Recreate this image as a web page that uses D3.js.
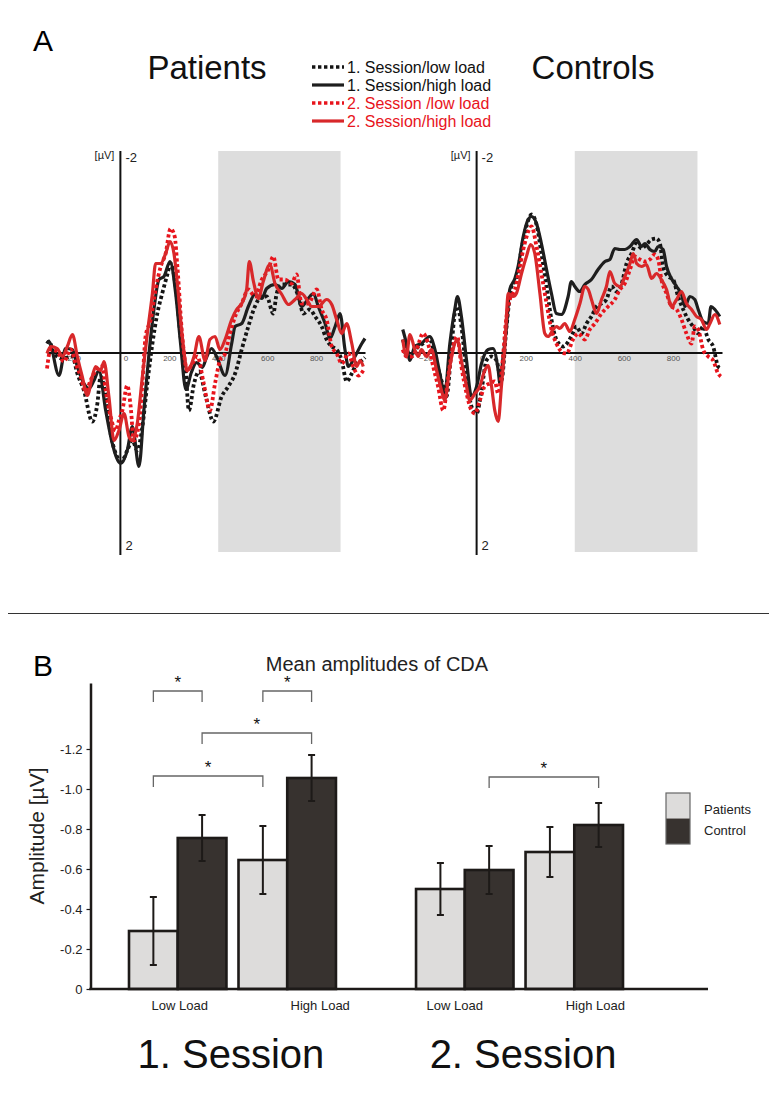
<!DOCTYPE html>
<html>
<head>
<meta charset="utf-8">
<script src="https://cdn.jsdelivr.net/npm/d3@7"></script>
<style>
  html, body { margin: 0; padding: 0; background: #fff; }
  svg { display: block; font-family: "Liberation Sans", Arial, Helvetica, sans-serif; }
</style>
</head>
<body>
<svg id="chart" width="777" height="1103"></svg>
<script>
// ---------------- DATA ----------------
// Panel A: ERP waveforms, [time in ms, amplitude in µV] (negative plotted upward)
const erpTicks = [-200, 0, 200, 400, 600, 800];
const erpWindow = [400, 900];
const seriesNames = ["1. Session/low load", "1. Session/high load", "2. Session /low load", "2. Session/high load"];

const patS1Low = [[-300,-0.09],[-292,-0.11],[-271,0.01],[-237,0.06],[-196,0.04],[-176,0.21],[-149,0.38],[-115,0.69],[-94,0.51],[-81,0.24],[-60,0.44],[-40,0.81],[-19,1.01],[4,1.09],[28,0.98],[49,0.88],[69,0.98],[90,0.74],[110,0.31],[131,-0.09],[151,-0.39],[171,-0.59],[192,-0.78],[205,-0.89],[226,-0.66],[246,-0.16],[267,0.18],[280,0.58],[301,0.31],[321,0.19],[350,0.45],[380,0.69],[414,0.44],[441,0.34],[469,0.21],[496,-0.03],[523,-0.26],[550,-0.46],[578,-0.56],[598,-0.56],[625,-0.39],[639,-0.59],[660,-0.68],[700,-0.68],[728,-0.56],[748,-0.39],[775,-0.43],[796,-0.36],[823,-0.26],[843,-0.13],[864,-0.06],[884,-0.03],[905,0.08],[925,0.29],[946,0.21],[966,0.11],[987,0.08],[1000,0.05]];
const patS1High = [[-300,-0.09],[-292,-0.11],[-251,0.23],[-224,-0.04],[-196,-0.03],[-176,0.14],[-149,0.31],[-128,0.36],[-108,0.28],[-88,0.18],[-60,0.58],[-33,0.91],[1,1.11],[28,0.98],[49,0.74],[76,1.14],[96,0.58],[117,0.01],[137,-0.43],[158,-0.73],[178,-0.76],[203,-0.91],[226,-0.59],[246,-0.09],[268,0.37],[290,0.2],[312,0.1],[335,0.15],[352,0.05],[373,-0.04],[395,0.05],[428,0.23],[455,-0.09],[469,-0.26],[496,-0.29],[523,-0.46],[550,-0.58],[578,-0.54],[598,-0.64],[632,-0.68],[660,-0.64],[687,-0.71],[714,-0.68],[741,-0.46],[768,-0.54],[789,-0.59],[809,-0.46],[837,-0.29],[857,-0.14],[878,-0.26],[898,-0.39],[918,-0.03],[932,0.14],[959,0.04],[987,-0.09],[1000,-0.14]];
const patS2Low = [[-300,0.16],[-285,-0.03],[-258,-0.01],[-231,0.09],[-203,-0.03],[-183,0.11],[-162,0.24],[-142,0.39],[-122,0.28],[-94,0.16],[-74,0.14],[-60,0.38],[-40,0.64],[-19,0.78],[-6,0.68],[8,0.58],[28,0.33],[42,0.54],[55,0.88],[76,0.71],[90,0.31],[103,-0.16],[124,-0.33],[144,-0.63],[165,-0.86],[185,-0.99],[205,-1.24],[222,-1.16],[233,-0.86],[253,-0.16],[274,0.18],[294,0.11],[315,0.04],[340,0.3],[366,0.58],[387,0.31],[407,0.08],[428,0.01],[448,-0.19],[469,-0.36],[496,-0.49],[523,-0.63],[550,-0.56],[578,-0.73],[605,-0.83],[625,-0.96],[646,-0.73],[673,-0.73],[700,-0.69],[720,-0.78],[741,-0.49],[768,-0.49],[803,-0.63],[823,-0.43],[843,-0.33],[864,-0.06],[884,0.01],[905,0.11],[932,0.01],[952,0.14],[973,0.23],[993,0.18]];
const patS2High = [[-300,0.01],[-285,-0.06],[-258,-0.04],[-237,0.04],[-217,-0.06],[-196,-0.18],[-176,0.04],[-156,0.24],[-135,0.43],[-115,0.24],[-101,0.14],[-81,0.18],[-67,0.09],[-47,0.44],[-26,0.88],[-6,0.78],[15,0.61],[35,0.84],[49,0.88],[69,0.71],[90,0.24],[110,-0.19],[131,-0.59],[144,-0.89],[165,-0.89],[185,-0.99],[203,-1.11],[219,-0.99],[233,-0.69],[253,-0.16],[274,0.18],[301,0.04],[321,-0.16],[346,0.08],[366,-0.13],[387,-0.16],[407,-0.03],[428,-0.13],[455,-0.33],[475,-0.43],[496,-0.49],[516,-0.63],[527,-0.91],[544,-0.71],[564,-0.54],[584,-0.71],[611,-0.88],[632,-0.69],[660,-0.58],[687,-0.48],[714,-0.53],[741,-0.59],[762,-0.53],[782,-0.46],[809,-0.46],[843,-0.53],[864,-0.48],[884,-0.33],[905,-0.19],[925,-0.29],[946,-0.09],[966,0.14],[980,0.08],[993,0.14]];

const conS1Low = [[-301,-0.13],[-286,-0.03],[-265,0.04],[-245,-0.04],[-218,-0.09],[-191,-0.13],[-163,0.11],[-136,0.34],[-123,0.44],[-102,-0.06],[-89,-0.39],[-78,-0.46],[-62,-0.26],[-41,0.21],[-21,0.54],[0,0.61],[20,0.38],[40,0.08],[61,0.04],[81,0.08],[101,0.28],[122,-0.26],[142,-0.66],[162,-0.73],[183,-1.03],[203,-1.26],[224,-1.38],[244,-1.28],[264,-0.99],[285,-0.66],[305,-0.33],[325,-0.13],[353,-0.06],[386,-0.16],[407,-0.26],[427,-0.19],[448,-0.29],[468,-0.36],[489,-0.46],[509,-0.49],[529,-0.53],[550,-0.66],[570,-0.61],[590,-0.68],[611,-0.89],[631,-0.99],[652,-1.09],[672,-1.04],[692,-1.08],[713,-1.13],[733,-1.14],[747,-1.09],[760,-0.86],[781,-0.76],[801,-0.73],[821,-0.56],[842,-0.43],[862,-0.33],[882,-0.26],[903,-0.19],[923,-0.26],[944,-0.13],[964,-0.06],[984,0.14],[995,0.16]];
const conS1High = [[-301,-0.23],[-286,-0.09],[-272,0.08],[-252,-0.06],[-225,-0.09],[-191,-0.16],[-170,-0.03],[-150,0.21],[-130,0.41],[-109,-0.09],[-89,-0.43],[-78,-0.56],[-62,-0.36],[-41,0.08],[-21,0.44],[0,0.34],[20,0.11],[47,-0.03],[67,-0.04],[88,0.18],[95,0.31],[108,0.04],[122,-0.26],[135,-0.63],[156,-0.74],[169,-0.86],[190,-1.16],[210,-1.33],[224,-1.36],[244,-1.29],[264,-1.09],[285,-0.83],[305,-0.59],[325,-0.39],[346,-0.38],[373,-0.56],[386,-0.71],[400,-0.66],[420,-0.61],[441,-0.68],[468,-0.73],[495,-0.83],[523,-0.91],[543,-0.93],[563,-1.04],[584,-1.03],[604,-1.03],[625,-1.06],[652,-1.13],[672,-1.06],[686,-1.09],[706,-1.03],[726,-1.01],[740,-1.06],[760,-1.03],[774,-0.86],[794,-0.74],[815,-0.66],[835,-0.58],[849,-0.46],[869,-0.56],[889,-0.53],[903,-0.43],[923,-0.31],[944,-0.29],[955,-0.46],[971,-0.43],[991,-0.36]];
const conS2Low = [[-301,-0.03],[-286,0.04],[-265,0.04],[-245,-0.03],[-218,-0.19],[-198,-0.09],[-177,0.14],[-157,0.34],[-136,0.58],[-116,0.24],[-96,-0.06],[-79,-0.16],[-62,0.14],[-41,0.41],[-21,0.58],[-7,0.61],[13,0.48],[33,0.34],[54,0.31],[74,0.29],[88,0.41],[101,0.21],[122,-0.36],[135,-0.53],[156,-0.63],[176,-0.86],[196,-1.09],[224,-1.26],[244,-1.06],[264,-0.79],[285,-0.49],[305,-0.23],[325,-0.09],[350,0.0],[367,0.01],[393,-0.13],[414,-0.19],[441,-0.13],[461,-0.23],[482,-0.29],[509,-0.39],[536,-0.46],[563,-0.53],[584,-0.63],[604,-0.69],[625,-0.83],[645,-0.96],[665,-0.93],[686,-0.91],[706,-0.93],[726,-0.98],[740,-0.93],[753,-0.73],[774,-0.59],[794,-0.46],[815,-0.43],[835,-0.33],[855,-0.19],[876,-0.09],[889,-0.26],[903,-0.23],[923,-0.03],[944,0.04],[964,0.08],[984,0.21],[995,0.24]];
const conS2High = [[-301,-0.13],[-286,0.04],[-272,-0.18],[-252,-0.03],[-238,0.04],[-225,-0.03],[-204,0.04],[-184,-0.03],[-163,0.18],[-143,0.38],[-130,0.48],[-109,0.14],[-89,-0.09],[-79,-0.13],[-62,0.08],[-41,0.34],[-28,0.48],[-7,0.41],[13,0.34],[33,0.18],[47,0.13],[61,0.34],[74,0.58],[88,0.69],[101,0.34],[115,-0.06],[129,-0.59],[149,-0.56],[162,-0.59],[183,-0.79],[203,-0.96],[220,-1.08],[237,-0.99],[258,-0.59],[278,-0.19],[291,-0.16],[312,-0.23],[325,-0.26],[339,-0.24],[359,-0.29],[380,-0.21],[400,-0.33],[421,-0.49],[441,-0.66],[455,-0.63],[468,-0.53],[489,-0.39],[509,-0.53],[529,-0.66],[543,-0.81],[563,-0.69],[584,-0.66],[604,-0.76],[625,-0.89],[638,-0.99],[652,-0.89],[672,-0.86],[692,-0.88],[713,-0.74],[733,-0.79],[753,-0.73],[774,-0.63],[794,-0.46],[815,-0.53],[835,-0.61],[855,-0.49],[876,-0.43],[896,-0.36],[916,-0.33],[937,-0.23],[951,-0.29],[971,-0.38],[991,-0.28]];

// Panel B: mean CDA amplitudes (µV), order: S1 low, S1 high, S2 low, S2 high
const sessions = ["1. Session", "2. Session"];
const loads = ["Low Load", "High Load"];
const groups = ["Patients", "Control"];
const patientsMean = [-0.29, -0.645, -0.50, -0.685];
const patientsErr  = [0.17, 0.17, 0.13, 0.125];
const controlMean  = [-0.755, -1.055, -0.595, -0.82];
const controlErr   = [0.115, 0.115, 0.12, 0.11];
const ampTicks = [0, -0.2, -0.4, -0.6, -0.8, -1.0, -1.2];
const ampTickLabels = ["0", "-0.2", "-0.4", "-0.6", "-0.8", "-1.0", "-1.2"];
// significance brackets: [session, load, group] pairs and bracket level (µV)
const sigFrom  = [[0,0,0],[0,1,0],[0,0,1],[0,0,0],[1,0,1]];
const sigTo    = [[0,0,1],[0,1,1],[0,1,1],[0,1,0],[1,1,1]];
const sigLevel = [-1.49, -1.49, -1.28, -1.065, -1.06];

// ---------------- DRAW ----------------
const svg = d3.select("#chart");
const FONT = '"Liberation Sans", Arial, Helvetica, sans-serif';

// panel letters
svg.append("text").attr("x", 33).attr("y", 51).attr("font-size", 30).text("A");
svg.append("text").attr("x", 33).attr("y", 676).attr("font-size", 30).text("B");

// separator
svg.append("line").attr("x1", 8).attr("x2", 769).attr("y1", 613.5).attr("y2", 613.5)
  .attr("stroke", "#333").attr("stroke-width", 1);

// ----- Panel A -----
const lineStyles = [
  {color: "#141414", dash: "3.2,2.6", width: 3.8},
  {color: "#1e1e1e", dash: null,      width: 3.2},
  {color: "#e8141c", dash: "3.2,2.6", width: 3.8},
  {color: "#d8282a", dash: null,      width: 3.2}
];

function drawErp(xRange, title, titleX, seriesList, zeroDx) {
  const x = d3.scaleLinear().domain([-300, 1000]).range(xRange);
  const y = d3.scaleLinear().domain([-2, 2]).range([152.5, 552.5]);
  const g = svg.append("g");

  g.append("rect")
    .attr("x", x(erpWindow[0])).attr("width", x(erpWindow[1]) - x(erpWindow[0]))
    .attr("y", 151).attr("height", 401)
    .attr("fill", "#dddddd");

  // vertical axis
  g.append("line").attr("x1", x(0)).attr("x2", x(0)).attr("y1", 151).attr("y2", 555)
    .attr("stroke", "#111").attr("stroke-width", 2);

  // horizontal (time) axis
  const ax = g.append("g").attr("transform", `translate(0,${y(0)})`)
    .call(d3.axisBottom(x).tickValues(erpTicks).tickSize(0).tickSizeOuter(0).tickPadding(3));
  ax.select(".domain").attr("stroke", "#111").attr("stroke-width", 2);
  ax.selectAll(".tick text").attr("font-size", 8).attr("fill", "#555").attr("font-family", FONT)
    .attr("dx", d => d === 0 ? zeroDx : 0);

  // axis labels
  g.append("text").attr("x", x(0) - 6).attr("y", 159).attr("text-anchor", "end")
    .attr("font-size", 11).attr("fill", "#222").text("[µV]");
  g.append("text").attr("x", x(0) + 5).attr("y", 162).attr("font-size", 13).attr("fill", "#222").text("-2");
  g.append("text").attr("x", x(0) + 5).attr("y", 550).attr("font-size", 13).attr("fill", "#222").text("2");

  const line = d3.line().x(d => x(d[0])).y(d => y(d[1])).curve(d3.curveMonotoneX);
  seriesList.forEach((s, i) => {
    const st = lineStyles[i];
    g.append("path").datum(s).attr("d", line)
      .attr("fill", "none").attr("stroke", st.color).attr("stroke-width", st.width)
      .attr("stroke-linejoin", "round")
      .attr("stroke-dasharray", st.dash);
  });

  svg.append("text").attr("x", titleX).attr("y", 79).attr("text-anchor", "middle")
    .attr("font-size", 33).attr("fill", "#111").text(title);
}

drawErp([47, 365], "Patients", 207, [patS1Low, patS1High, patS2Low, patS2High], 5);
drawErp([403, 722], "Controls", 593, [conS1Low, conS1High, conS2Low, conS2High], 5);

// legend A
const legA = svg.append("g");
seriesNames.forEach((name, i) => {
  const st = lineStyles[i];
  const yy = 67 + i * 18;
  legA.append("line").attr("x1", 312).attr("x2", 344).attr("y1", yy).attr("y2", yy)
    .attr("stroke", st.color).attr("stroke-width", st.dash ? 3.6 : 3.2)
    .attr("stroke-dasharray", st.dash ? "3.4,2.6" : null);
  legA.append("text").attr("x", 347).attr("y", yy + 5.5).attr("font-size", 16)
    .attr("fill", i < 2 ? "#111" : "#e8141c").text(name);
});

// ----- Panel B -----
svg.append("text").attr("x", 377).attr("y", 671).attr("text-anchor", "middle")
  .attr("font-size", 20).attr("fill", "#222").text("Mean amplitudes of CDA");

const yB = d3.scaleLinear().domain([0, -1.53]).range([989, 683]);
const xSession = d3.scaleBand().domain(sessions).range([129, 623]).paddingInner(0.279).paddingOuter(0);
const xLoad = d3.scaleBand().domain(loads).range([0, xSession.bandwidth()]).paddingInner(0.11).paddingOuter(0);
const xGroup = d3.scaleBand().domain(groups).range([0, xLoad.bandwidth()]).padding(0);

const bars = [];
sessions.forEach((s, si) => loads.forEach((l, li) => {
  const k = si * 2 + li;
  bars.push({s, l, g: "Patients", v: patientsMean[k], e: patientsErr[k]});
  bars.push({s, l, g: "Control", v: controlMean[k], e: controlErr[k]});
}));
const barX = (s, l, g) => xSession(s) + xLoad(l) + xGroup(g);
const fills = {Patients: "#dddcdb", Control: "#37322f"};

const gB = svg.append("g");
gB.selectAll("rect.bar").data(bars).join("rect").attr("class", "bar")
  .attr("x", d => barX(d.s, d.l, d.g))
  .attr("width", xGroup.bandwidth())
  .attr("y", d => yB(d.v))
  .attr("height", d => yB(0) - yB(d.v))
  .attr("fill", d => fills[d.g])
  .attr("stroke", "#1d1a18").attr("stroke-width", 2.6);

// error bars
const eb = gB.selectAll("g.err").data(bars).join("g").attr("class", "err");
const cx = d => barX(d.s, d.l, d.g) + xGroup.bandwidth() / 2;
eb.append("line").attr("x1", cx).attr("x2", cx)
  .attr("y1", d => yB(d.v - d.e)).attr("y2", d => yB(d.v + d.e))
  .attr("stroke", "#1d1a18").attr("stroke-width", 2);
eb.append("line").attr("x1", d => cx(d) - 3.5).attr("x2", d => cx(d) + 3.5)
  .attr("y1", d => yB(d.v - d.e)).attr("y2", d => yB(d.v - d.e))
  .attr("stroke", "#1d1a18").attr("stroke-width", 2);
eb.append("line").attr("x1", d => cx(d) - 3.5).attr("x2", d => cx(d) + 3.5)
  .attr("y1", d => yB(d.v + d.e)).attr("y2", d => yB(d.v + d.e))
  .attr("stroke", "#1d1a18").attr("stroke-width", 2);

// axes
const yAx = svg.append("g").attr("transform", "translate(90.5,0)")
  .call(d3.axisLeft(yB).tickValues(ampTicks).tickFormat((d, i) => ampTickLabels[i]).tickSize(4).tickSizeOuter(0).tickPadding(4));
yAx.select(".domain").attr("stroke", "#1d1a18").attr("stroke-width", 2.5);
yAx.selectAll(".tick line").attr("stroke", "#1d1a18").attr("stroke-width", 1.2);
yAx.selectAll(".tick text").attr("font-size", 13).attr("fill", "#222").attr("font-family", FONT);

svg.append("line").attr("x1", 89.3).attr("x2", 708).attr("y1", yB(0)).attr("y2", yB(0))
  .attr("stroke", "#1d1a18").attr("stroke-width", 2.5);

svg.append("text").attr("transform", "translate(44,836) rotate(-90)")
  .attr("text-anchor", "middle").attr("font-size", 21).attr("fill", "#222").text("Amplitude [µV]");

// load labels (centred on clusters, with slight offsets as in the original)
const loadLabelShift = [2, 33, -10, 21];
sessions.forEach((s, si) => loads.forEach((l, li) => {
  svg.append("text")
    .attr("x", xSession(s) + xLoad(l) + xLoad.bandwidth() / 2 + loadLabelShift[si * 2 + li])
    .attr("y", 1010).attr("text-anchor", "middle").attr("font-size", 13).attr("fill", "#222").text(l);
}));
const sessionLabelShift = [-1.5, 3.5];
sessions.forEach((s, si) => {
  svg.append("text").attr("x", xSession(s) + xSession.bandwidth() / 2 + sessionLabelShift[si])
    .attr("y", 1068).attr("text-anchor", "middle").attr("font-size", 40).attr("fill", "#111").text(s);
});

// significance brackets
sigFrom.forEach((a, i) => {
  const b = sigTo[i];
  const x1 = barX(sessions[a[0]], loads[a[1]], groups[a[2]]) + xGroup.bandwidth() / 2;
  const x2 = barX(sessions[b[0]], loads[b[1]], groups[b[2]]) + xGroup.bandwidth() / 2;
  const yy = yB(sigLevel[i]);
  svg.append("path").attr("d", `M${x1},${yy + 11}V${yy}H${x2}V${yy + 11}`)
    .attr("fill", "none").attr("stroke", "#666").attr("stroke-width", 1.3);
  svg.append("text").attr("x", (x1 + x2) / 2).attr("y", yy - 3).attr("text-anchor", "middle")
    .attr("font-size", 17).attr("fill", "#111").text("*");
});

// legend B
const legB = svg.append("g");
groups.forEach((gname, i) => {
  legB.append("rect").attr("x", 666).attr("y", 793 + i * 25.5).attr("width", 24).attr("height", 25.5)
    .attr("fill", fills[gname]);
  legB.append("text").attr("x", 704).attr("y", 814 + i * 21).attr("font-size", 13).attr("fill", "#222").text(gname);
});
legB.append("rect").attr("x", 666).attr("y", 793).attr("width", 24).attr("height", 51)
  .attr("fill", "none").attr("stroke", "#666").attr("stroke-width", 1.2);
</script>
</body>
</html>
